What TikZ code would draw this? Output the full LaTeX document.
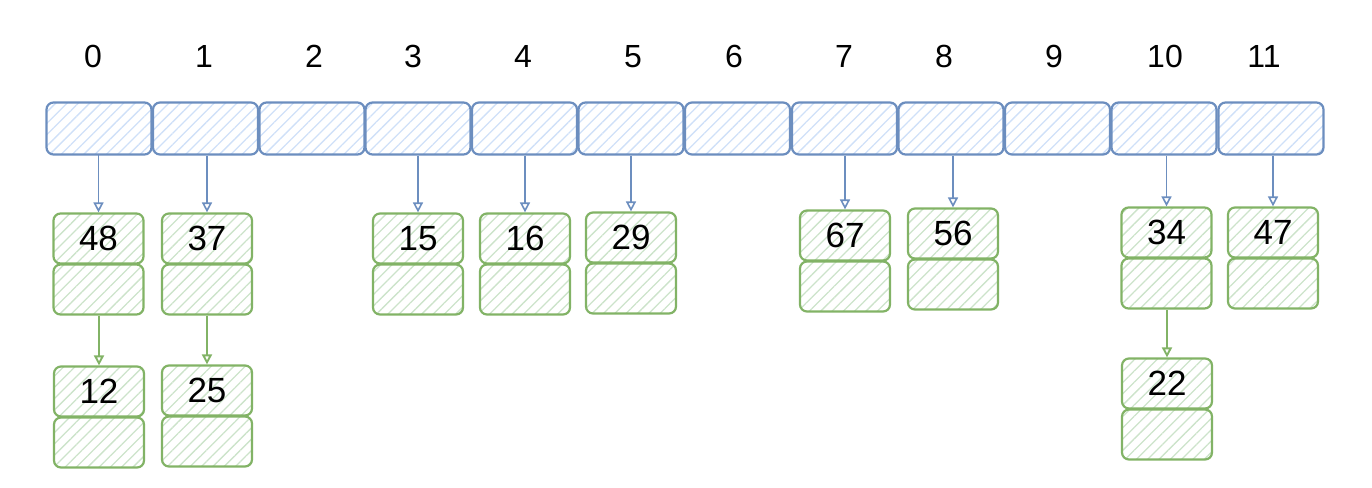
\documentclass[tikz,border=0pt]{standalone}
\usepackage{fontspec}
\setmainfont{Liberation Sans}
\usetikzlibrary{patterns.meta,arrows.meta}
\definecolor{bstroke}{HTML}{6C8EBF}
\definecolor{bfill}{HTML}{CFE0F8}
\definecolor{gstroke}{HTML}{82B366}
\definecolor{gfill}{HTML}{CCE3CA}
\tikzset{
  cell/.style={draw=bstroke, line width=2.2pt, rounded corners=7pt,
    pattern={Lines[angle=45,distance=8pt,line width=1.3pt]}, pattern color=bfill,
    minimum width=105pt, minimum height=52pt, inner sep=0pt},
  gbox/.style={draw=gstroke, line width=2.2pt, rounded corners=7pt,
    pattern={Lines[angle=45,distance=8pt,line width=1.3pt]}, pattern color=gfill,
    minimum width=90pt, minimum height=50pt, inner sep=0pt,
    font=\fontsize{35}{38}\selectfont},
  idx/.style={font=\fontsize{32}{36}\selectfont, inner sep=0pt, anchor=base},
  barrow/.style={draw=bstroke, line width=1.6pt, -{Triangle[open,length=10pt,width=10pt]}},
  garrow/.style={draw=gstroke, line width=1.9pt, -{Triangle[open,length=10pt,width=10pt]}},
}
\begin{document}
\begin{tikzpicture}[x=1pt,y=-1pt]
\useasboundingbox (0,0) rectangle (1372,487);
% index labels
\foreach \i/\x in {0/93,1/204,2/314,3/413,4/523,5/633,6/734,7/844,8/944,9/1054,10/1165,11/1264}
  \node[idx] (l\i) at (\x,67) {\i};
% array cells
\foreach \i/\x in {0/99,1/205.5,2/312,3/418,4/524.5,5/631,6/737.5,7/844.5,8/951,9/1057.5,10/1164,11/1271}
  \node[cell] (c\i) at (\x,128.5) {};
% first-level green boxes: index/xcenter/top/value
\foreach \i/\x/\t/\v in {0/98.5/213/48,1/207/213/37,3/418/213/15,4/525/213/16,5/631/212/29,7/845/210/67,8/953/208/56,10/1166.5/207/34,11/1273/207/47}{
  \node[gbox] (v\i) at (\x,\t+25.5) {\v};
  \node[gbox] (p\i) at (\x,\t+76.5) {};
  \draw[barrow] (c\i.south -| v\i.north) -- (v\i.north);
}
% second-level boxes
\foreach \i/\x/\t/\v in {0/99/366/12,1/207/365/25,10/1167/358/22}{
  \node[gbox] (w\i) at (\x,\t+25.5) {\v};
  \node[gbox] (q\i) at (\x,\t+76.5) {};
  \draw[garrow] (p\i.south -| w\i.north) -- (w\i.north);
}
\end{tikzpicture}
\end{document}
